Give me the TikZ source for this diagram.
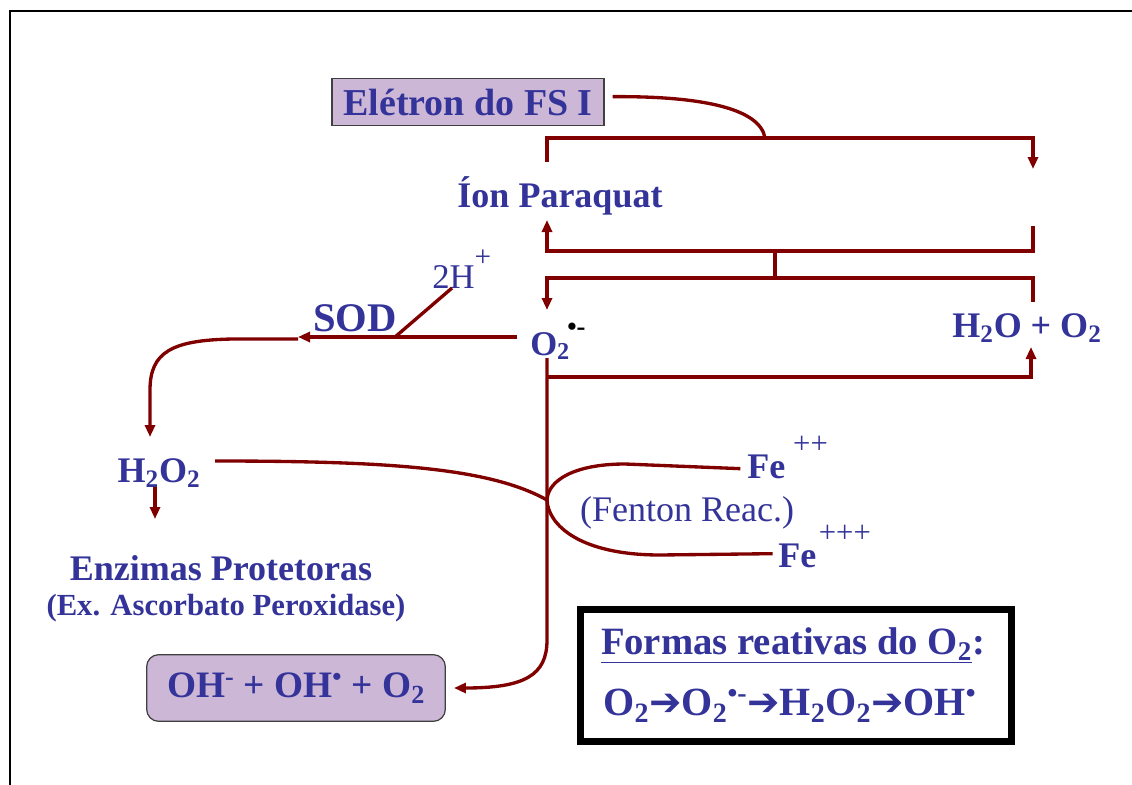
\documentclass[tikz,border=0pt]{standalone}
\usepackage{fontspec}
\setmainfont{Liberation Serif}
\newfontfamily\djv{DejaVu Sans}
\usetikzlibrary{arrows.meta}
\definecolor{tblue}{RGB}{51,51,153}
\definecolor{lred}{RGB}{128,0,0}
\definecolor{lilac}{RGB}{205,183,215}
\newcommand{\fsbig}{\fontsize{27}{31}\selectfont}
\newcommand{\harr}{{\djv\fontsize{29}{29}\selectfont ➔}}
\begin{document}
\begin{tikzpicture}[x=0.75pt,y=-0.75pt,line join=miter,
  lbl/.style={text=tblue, inner sep=0pt, font=\fsbig\bfseries},
  conn/.style={draw=lred, line width=2.5pt},
  arr/.style={conn, -{Triangle[length=9pt,width=7.5pt]}},
  purplebox/.style={draw=black!75, line width=0.9pt, fill=lilac}]
\useasboundingbox (0,0) rectangle (1132,785);
\fill[white] (0,0) rectangle (1132,785);
\draw[line width=1.6pt] (10,786) -- (10,11) -- (1133,11);

% nodes
\node[purplebox, lbl, font=\fontsize{28.5}{32}\selectfont\bfseries, minimum width=204pt, minimum height=35pt] (eletron) at (468,102) {Elétron do FS I};
\node[lbl, anchor=base] (paraquat) at (560,207) {Íon Paraquat};
\node[lbl, font=\fontsize{30.5}{34}\selectfont\bfseries, anchor=base] (sod) at (355,331) {SOD};
\node[lbl, font=\fontsize{26}{30}\selectfont, anchor=base west] (h2p) at (432,288) {2H\raisebox{0.62em}{\fontsize{22}{22}\selectfont +}};
\node[lbl, font=\fontsize{26}{30}\selectfont\bfseries, anchor=base west] (o2) at (530,355) {O\textsubscript{2}\kern-2pt\raisebox{0.55em}{\textcolor{black}{\fontsize{20}{20}\selectfont •-}}};
\node[lbl, anchor=base] (h2o) at (1027,337) {H\textsubscript{2}O + O\textsubscript{2}};
\node[lbl, anchor=base] (h2o2) at (159,482) {H\textsubscript{2}O\textsubscript{2}};
\node[lbl, anchor=base] (enz) at (221,580) {Enzimas Protetoras};
\node[lbl, font=\fontsize{23}{26}\selectfont\bfseries, anchor=base] (ex) at (226,615) {(Ex. Ascorbato Peroxidase)};
\node[lbl, anchor=base west] (fe2) at (747,478) {Fe\kern6pt\raisebox{0.68em}{\mdseries\fontsize{23}{24}\selectfont ++}};
\node[lbl, anchor=base west] (fe3) at (778,567) {Fe\kern2pt\raisebox{0.68em}{\mdseries\fontsize{23}{24}\selectfont +++}};
\node[lbl, font=\fsbig, anchor=base] (fenton) at (687,521) {(Fenton Reac.)};
\node[purplebox, lbl, font=\fontsize{28}{31}\selectfont\bfseries, rounded corners=9pt, minimum width=224pt, minimum height=50pt] (ohbox) at (296,688) {OH\textsuperscript{-} + OH\textsuperscript{•} + O\textsubscript{2}};
\node[draw=black, line width=5.25pt, minimum width=323pt, minimum height=99pt, inner sep=0pt] (formas) at (796,675.5) {};
\node[lbl, font=\fontsize{29}{32}\selectfont\bfseries, anchor=base] (f1) at (793,654) {\underline{Formas reativas do O\textsubscript{2}}:};
\node[lbl, font=\fontsize{30}{32}\selectfont\bfseries, anchor=base] (f2) at (790,715) {O\textsubscript{2}\harr O\textsubscript{2}\textsuperscript{•-}\harr H\textsubscript{2}O\textsubscript{2}\harr OH\textsuperscript{•}};

% coordinates
\coordinate (ua) at (547,162);
\coordinate (ub) at (547,138);
\coordinate (uc) at (1033,138);
\coordinate (ud) at (1033,169);
\coordinate (uj) at (765,138);
\coordinate (la) at (547,220);
\coordinate (lb) at (547,251);
\coordinate (lc) at (1033,251);
\coordinate (ld) at (1033,226);
\coordinate (lm) at (775,251);
\coordinate (ln) at (775,278);
\coordinate (ma) at (547,310);
\coordinate (mb) at (547,278);
\coordinate (mc) at (1033,278);
\coordinate (md) at (1033,302);
\coordinate (va) at (547,358);
\coordinate (vb) at (547,377);
\coordinate (vc) at (1031,377);
\coordinate (vd) at (1031,347);
\coordinate (ve) at (547,640);
\coordinate (sa) at (517,337);
\coordinate (sb) at (298,337);
\coordinate (sd) at (395,337);
\coordinate (se) at (452,288);
\coordinate (ca) at (298,339);
\coordinate (cb) at (150,437);
\coordinate (ha) at (155,487);
\coordinate (hb) at (155,519);
\coordinate (hc) at (215,461);
\coordinate (jn) at (547,500);

% connectors
\draw[conn] ([xshift=6pt,yshift=4pt]eletron.east) .. controls (700,96) and (760,108) .. (uj);
\draw[arr] (ua) -- (ub) -- (uc) -- (ud);
\draw[arr] (ld) -- (lc) -- (lb) -- (la);
\draw[conn] (lm) -- (ln);
\draw[arr] (md) -- (mc) -- (mb) -- (ma);
\draw[arr] (vb) -- (vc) -- (vd);
\draw[arr] (va) -- (ve) .. controls (547,675) and (525,688) .. ([xshift=6pt]ohbox.east);
\draw[arr] (sa) -- (sb);
\draw[conn] (sd) -- (se);
\draw[arr] (ca) -- (233,339) .. controls (172,340) and (150,352) .. (150,390) -- (cb);
\draw[arr] (ha) -- (hb);
\draw[conn] (hc) .. controls (390,461) and (490,468) .. (jn);
\draw[conn] ([xshift=-5pt,yshift=7pt]fe2.base west) -- (625,464) .. controls (575,464) and (548,480) .. (jn)
  .. controls (548,525) and (580,555) .. (660,555) -- ([xshift=-4pt,yshift=10pt]fe3.base west);
\end{tikzpicture}
\end{document}
